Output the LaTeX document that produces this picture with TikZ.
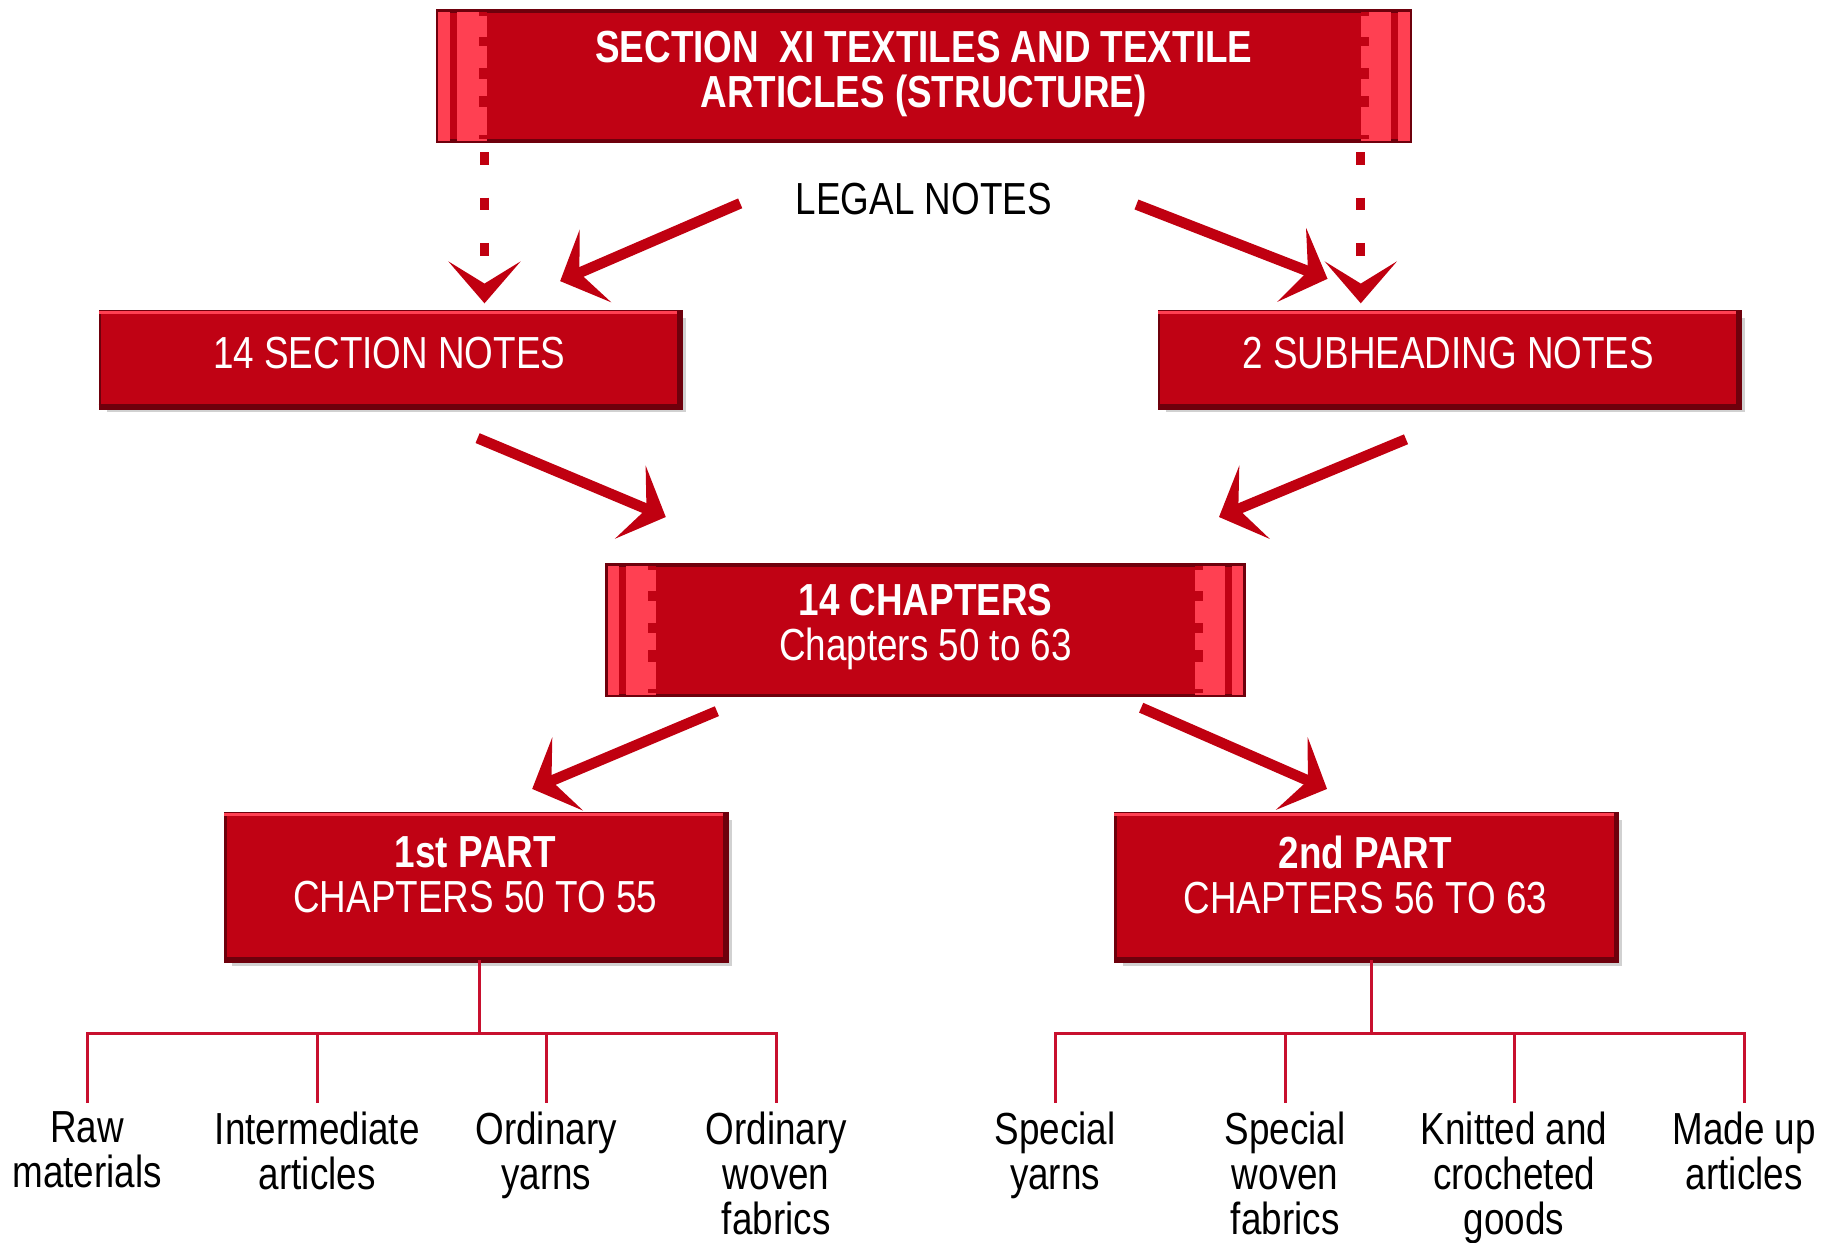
\documentclass[tikz,border=0pt]{standalone}
\usepackage{fontspec}
\setmainfont{Liberation Sans}[FakeStretch=0.82]
\usetikzlibrary{arrows.meta,shadows}

\definecolor{boxred}{HTML}{C00214}
\definecolor{stripered}{HTML}{FF4052}
\definecolor{boxdark}{HTML}{6E000C}
\definecolor{arrowred}{HTML}{C00010}
\definecolor{treered}{HTML}{C8102E}

\newcommand{\diagfont}{\fontsize{11}{11.1}\selectfont}
\newcommand{\padbelow}[1]{\rule[-#1]{0pt}{0pt}}

\tikzset{
  every node/.style={font=\diagfont, align=center},
  redbox/.style={fill=boxred, draw=boxdark, line width=0.6pt, text=white, inner sep=0pt},
  notebox/.style={redbox, minimum width=4.98cm, minimum height=0.81cm,
    drop shadow={shadow xshift=0.06cm, shadow yshift=-0.06cm, fill=black, opacity=0.18}},
  partbox/.style={redbox, minimum width=4.30cm, minimum height=1.25cm,
    drop shadow={shadow xshift=0.06cm, shadow yshift=-0.06cm, fill=black, opacity=0.18}},
  scrollbox/.style={redbox, minimum height=1.11cm},
  leaf/.style={anchor=north, inner sep=0pt},
  bigarrow/.style={arrowred, line width=2.6pt, -{Stealth[length=0.33cm,width=0.68cm,inset=0.15cm]}},
  dasharrow/.style={arrowred, line width=2.1pt, dash pattern=on 0.11cm off 0.28cm,
    -{Stealth[length=0.36cm,width=0.62cm,inset=0.19cm]}},
  tree/.style={treered, line width=0.7pt},
}

\begin{document}
\begin{tikzpicture}[x=1cm,y=-1cm]
\useasboundingbox (0,0) rectangle (15.68,10.69);

% boxes
\node[scrollbox, minimum width=8.36cm, font=\diagfont\bfseries] (sec) at (7.95,0.655)
  {SECTION~ XI TEXTILES AND TEXTILE\\ARTICLES (STRUCTURE)\padbelow{0.12cm}};
\node[inner sep=0pt] (legal) at (7.95,1.71) {LEGAL NOTES};
\node[notebox] (secn) at (3.35,3.085) {14 SECTION NOTES\padbelow{0.10cm}};
\node[notebox] (subn) at (12.465,3.085) {2 SUBHEADING NOTES\padbelow{0.10cm}};
\node[scrollbox, minimum width=5.47cm] (chap) at (7.965,5.425)
  {\textbf{14 CHAPTERS}\\Chapters 50 to 63\padbelow{0.14cm}};
\node[partbox] (part1) at (4.09,7.625) {\textbf{1st PART}\\CHAPTERS 50 TO 55\padbelow{0.20cm}};
\node[partbox] (part2) at (11.75,7.625) {\textbf{2nd PART}\\CHAPTERS 56 TO 63\padbelow{0.20cm}};

% striped ends of the scroll boxes
\foreach \n in {sec,chap} {
  \fill[stripered] (\n.north west) rectangle ([xshift=0.11cm]\n.south west);
  \fill[stripered] ([xshift=0.17cm]\n.north west) rectangle ([xshift=0.43cm]\n.south west);
  \fill[stripered] (\n.north east) rectangle ([xshift=-0.11cm]\n.south east);
  \fill[stripered] ([xshift=-0.17cm]\n.north east) rectangle ([xshift=-0.43cm]\n.south east);
  \foreach \f/\h in {0/0.045,0.23/0.08,0.50/0.09,0.735/0.10,1.07/0.035} {
    \fill[boxred] ([shift={(0.36,\f)}]\n.north west) rectangle ++(0.07,\h);
    \fill[boxred] ([shift={(-0.36,\f)}]\n.north east) rectangle ++(-0.07,\h);
  }
  \draw[boxdark, line width=0.6pt] (\n.north west) rectangle (\n.south east);
}

% bevel of the plain boxes
\foreach \n in {secn,subn,part1,part2} {
  \draw[stripered, line width=0.8pt] ([yshift=-0.6pt]\n.north west) -- ([yshift=-0.6pt]\n.north east);
  \draw[boxdark, line width=1.4pt] (\n.south west) -- (\n.south east) -- (\n.north east);
}

% arrows
\draw[dasharrow] ([shift={(0.41,0.09)}]sec.south west) -- ++(0,1.30);
\draw[dasharrow] ([shift={(-0.43,0.09)}]sec.south east) -- ++(0,1.30);
\draw[bigarrow] ([shift={(-1.58,0.04)}]legal.center) -- ([shift={(-1.03,-0.25)}]secn.north east);
\draw[bigarrow] ([shift={(1.83,0.05)}]legal.center) -- ([shift={(1.46,-0.27)}]subn.north west);
\draw[bigarrow] ([shift={(0.76,0.27)}]secn.south) -- ([shift={(0.51,-0.41)}]chap.north west);
\draw[bigarrow] ([shift={(-0.365,0.28)}]subn.south) -- ([shift={(-0.22,-0.41)}]chap.north east);
\draw[bigarrow] ([shift={(0.95,0.13)}]chap.south west) -- ([shift={(0.49,-0.20)}]part1.north);
\draw[bigarrow] ([shift={(-0.89,0.10)}]chap.south east) -- ([shift={(-0.33,-0.20)}]part2.north);

% leaves
\foreach \name/\x/\txt in {raw/0.75/{Raw\\materials}, inter/2.73/{Intermediate\\articles},
  ordy/4.70/{Ordinary\\yarns}, ordw/6.68/{Ordinary\\woven\\fabrics},
  spy/9.08/{Special\\yarns}, spw/11.06/{Special\\woven\\fabrics},
  knit/13.03/{Knitted and\\crocheted\\goods}, made/15.01/{Made up\\articles}}
  \node[leaf] (\name) at (\x,9.56) {\txt};

% tree connectors
\coordinate (hub1) at ([shift={(0.04,0.63)}]part1.south);
\coordinate (hub2) at ([shift={(0.05,0.63)}]part2.south);
\draw[tree] ([xshift=0.04cm]part1.south) -- (hub1);
\draw[tree] ([xshift=0.05cm]part2.south) -- (hub2);
\foreach \name in {raw,inter,ordy,ordw}
  \draw[tree] ([yshift=0.07cm]\name.north) |- (hub1);
\foreach \name in {spy,spw,knit,made}
  \draw[tree] ([yshift=0.07cm]\name.north) |- (hub2);
\end{tikzpicture}
\end{document}
